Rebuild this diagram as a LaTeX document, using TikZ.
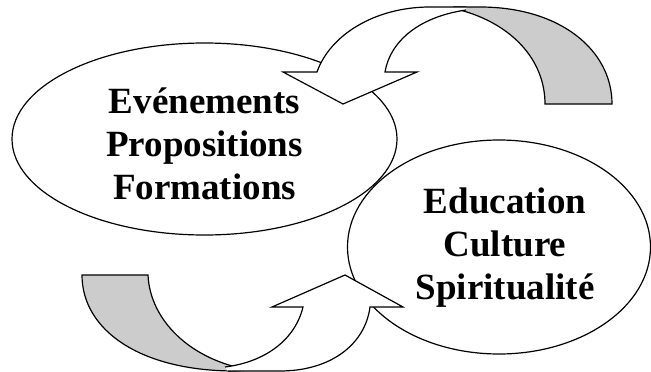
\documentclass[tikz,border=0pt]{standalone}
\usepackage{fontspec}
\setmainfont{Liberation Serif}
\usetikzlibrary{shapes.geometric}
\definecolor{ribbon}{RGB}{204,204,204}
\tikzset{
  bubble/.style={draw, ellipse, line width=1.2pt, inner sep=0pt},
  labeltext/.style={align=center, font=\fontsize{37}{43}\selectfont\bfseries, inner sep=0pt},
  edge line/.style={draw=black, line width=1.2pt, line join=miter},
}
\begin{document}
\begin{tikzpicture}[x=1pt,y=-1pt]
\useasboundingbox (0,0) rectangle (651,372);
% bubbles
\node[bubble, minimum width=385pt, minimum height=192pt] (le) at (204.5,139) {};
\node[bubble, minimum width=303pt, minimum height=214pt] (re) at (499,247) {};
% top curved arrow: back band (grey)
\filldraw[fill=ribbon, edge line] (612,104) .. controls (612,50) and (560,7) .. (480,7) -- (455,7) -- (460,10)
  .. controls (512,24) and (545,60) .. (545,104) -- cycle;
% top curved arrow: front band with head (white)
\fill[white] (466,7) -- (430,7) .. controls (375,7) and (330,35) .. (317,72) -- (283,72) -- (343,104) -- (417,72)
  -- (385,72) .. controls (390,42) and (418,17) .. (466,10) -- cycle;
\draw[edge line] (466,7) -- (430,7) .. controls (375,7) and (330,35) .. (317,72) -- (283,72) -- (343,104) -- (417,72)
  -- (385,72) .. controls (390,42) and (418,17) .. (466,10);
% bottom curved arrow: back band (grey)
\filldraw[fill=ribbon, edge line] (82,275) -- (148,275) .. controls (150,320) and (190,360) .. (250,370)
  -- (235,371) .. controls (140,371) and (82,330) .. (82,275) -- cycle;
% bottom curved arrow: front band with head (white)
\fill[white] (225,367) -- (228,371) -- (280,371) .. controls (330,371) and (365,345) .. (370,307) -- (403,307)
  -- (345,275) -- (272,307) -- (303,307) .. controls (295,340) and (265,362) .. (225,367) -- cycle;
\draw[edge line] (228,371) -- (280,371) .. controls (330,371) and (365,345) .. (370,307) -- (403,307)
  -- (345,275) -- (272,307) -- (303,307) .. controls (295,340) and (265,362) .. (225,367);
% texts
\node[labeltext] (lt) at (204.5,144) {Evénements\\Propositions\\Formations};
\node[labeltext] (rt) at (505,248) {Education\\Culture\\Spiritualité};
\end{tikzpicture}
\end{document}
